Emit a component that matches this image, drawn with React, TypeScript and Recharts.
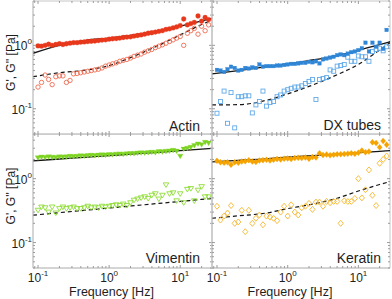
import React from 'react';
import { ComposedChart, Scatter, Line, XAxis, YAxis, ReferenceArea } from 'recharts';

// measured frequencies (Hz), shared by all four samples
const freqs = [
  0.1, 0.112, 0.126, 0.141, 0.158, 0.178, 0.2, 0.224, 0.251, 0.282,
  0.316, 0.355, 0.398, 0.447, 0.501, 0.562, 0.631, 0.708, 0.794, 0.891,
  1, 1.12, 1.26, 1.41, 1.58, 1.78, 2, 2.24, 2.51, 2.82,
  3.16, 3.55, 3.98, 4.47, 5.01, 5.62, 6.31, 7.08, 7.94, 8.91,
  10, 11.2, 12.6, 14.1, 15.8, 17.8, 20, 22.4, 25.1,
];
const fitFreqs = [0.085, 0.2, 0.5, 1, 2, 5, 10, 20, 28];

const actinStorage = [
  0.98, 0.97, 1.0, 1.04, 1.0, 1.03, 1.06, 1.03, 1.06, 1.08,
  1.1, 1.1, 1.12, 1.13, 1.15, 1.16, 1.17, 1.19, 1.21, 1.22,
  1.25, 1.27, 1.28, 1.3, 1.33, 1.35, 1.36, 1.4, 1.43, 1.46,
  1.5, 1.55, 1.58, 1.62, 1.66, 1.7, 1.78, 1.82, 1.88, 1.95,
  2.05, 2.6, 2.1, 2.2, 2.3, 2.9, 2.4, 2.75, 2.55,
];
const actinLoss = [
  0.22, 0.26, 0.34, 0.29, 0.24, 0.32, 0.33, 0.33, 0.26, 0.28,
  0.355, 0.36, 0.37, 0.38, 0.39, 0.4, 0.41, 0.42, 0.44, 0.47,
  0.49, 0.51, 0.53, 0.56, 0.58, 0.6, 0.63, 0.67, 0.7, 0.73,
  0.78, 0.82, 0.86, 0.92, 0.97, 1.02, 1.08, 1.15, 1.22, 1.3,
  1.38, 1.0, 1.55, 1.7, 1.85, 1.5, 2.0, 1.7, 2.1,
];
const actinStorageFit = [0.75, 1.0, 1.21, 1.3, 1.44, 1.68, 2.0, 2.42, 2.65];
const actinLossFit = [0.32, 0.37, 0.41, 0.48, 0.64, 1.0, 1.46, 2.13, 2.5];

const dxStorage = [
  0.41, 0.4, 0.38, 0.42, 0.46, 0.44, 0.4, 0.41, 0.44, 0.43,
  0.45, 0.44, 0.5, 0.46, 0.47, 0.47, 0.47, 0.48, 0.48, 0.49,
  0.5, 0.51, 0.51, 0.52, 0.53, 0.53, 0.55, 0.54, 0.56, 0.52,
  0.6, 0.62, 0.64, 0.66, 0.7, 0.72, 0.7, 0.74, 0.78, 0.8,
  0.84, 0.9, 1.1, 0.8, 1.1, 0.95, 1.1, 0.88, 1.75,
];
const dxLoss = [
  0.085, 0.13, 0.19, 0.059, 0.18, 0.05, 0.155, 0.155, 0.16, 0.16,
  0.086, 0.115, 0.13, 0.19, 0.11, 0.125, 0.13, 0.155, 0.165, 0.19,
  0.2, 0.21, 0.22, 0.22, 0.23, 0.25, 0.27, 0.29, 0.14, 0.29,
  0.3, 0.31, 0.41, 0.39, 0.47, 0.48, 0.5, 0.65, 0.56, 0.56,
  0.68, 0.66, 0.66, 0.56, 0.8, 0.86, 0.9, 0.82, 0.95,
];
const dxStorageFit = [0.355, 0.4, 0.46, 0.51, 0.575, 0.69, 0.83, 1.03, 1.14];
const dxLossFit = [0.115, 0.116, 0.136, 0.172, 0.225, 0.344, 0.5, 0.845, 1.1];

const vimStorage = [
  2.12, 2.18, 2.15, 2.2, 2.17, 2.14, 2.2, 2.18, 2.2, 2.24,
  2.22, 2.25, 2.28, 2.26, 2.3, 2.32, 2.3, 2.34, 2.36, 2.34,
  2.38, 2.37, 2.42, 2.44, 2.41, 2.46, 2.48, 2.47, 2.52, 2.54,
  2.52, 2.56, 2.6, 2.56, 2.65, 2.63, 2.68, 2.72, 2.78, 2.7,
  2.25, 2.9, 3.0, 3.1, 3.3, 3.5, 3.4, 3.7, 3.6,
];
const vimLoss = [
  0.32, 0.36, 0.35, 0.3, 0.36, 0.29, 0.34, 0.36, 0.34, 0.35,
  0.36, 0.34, 0.34, 0.35, 0.37, 0.35, 0.36, 0.35, 0.37, 0.36,
  0.37, 0.38, 0.39, 0.38, 0.4, 0.38, 0.42, 0.46, 0.48, 0.5,
  0.52, 0.49, 0.55, 0.58, 0.48, 0.55, 0.8, 0.58, 0.6, 0.45,
  0.58, 0.42, 0.68, 0.7, 0.45, 0.66, 0.75, 0.52, 0.52,
];
const vimStorageFit = [1.9, 2.03, 2.18, 2.29, 2.42, 2.59, 2.74, 2.9, 2.97];
const vimLossFit = [0.268, 0.294, 0.323, 0.347, 0.373, 0.41, 0.44, 0.474, 0.49];

const kerStorage = [
  1.9, 1.8, 1.78, 1.8, 1.65, 1.8, 1.78, 1.85, 1.87, 1.95,
  1.85, 1.83, 1.92, 1.95, 1.97, 1.93, 1.98, 2.03, 2.0, 2.05,
  2.07, 2.03, 2.1, 2.12, 2.1, 2.15, 2.05, 2.18, 2.15, 2.5,
  2.35, 2.38, 2.33, 2.36, 2.4, 2.42, 2.44, 2.46, 2.5, 2.45,
  2.55, 2.75, 2.6, 2.65, 3.7, 3.6, 3.1, 3.9, 3.4,
];
const kerLoss = [
  0.37, 0.225, 0.26, 0.29, 0.38, 0.2, 0.21, 0.32, 0.148, 0.32,
  0.2, 0.24, 0.27, 0.19, 0.26, 0.25, 0.24, 0.22, 0.3, 0.37,
  0.26, 0.39, 0.3, 0.27, 0.35, 0.37, 0.41, 0.33, 0.43, 0.43,
  0.37, 0.44, 0.42, 0.44, 0.44, 0.2, 0.45, 0.44, 0.44, 0.49,
  1.0, 0.5, 0.67, 1.37, 0.55, 0.38, 1.74, 2.0, 2.26,
];
const kerStorageFit = [1.835, 1.94, 2.04, 2.17, 2.28, 2.42, 2.55, 2.68, 2.74];
const kerLossFit = [0.24, 0.262, 0.29, 0.34, 0.39, 0.494, 0.64, 0.81, 0.9];

const xTicks = [0.09, 0.1, 0.2, 0.3, 0.4, 0.5, 0.6, 0.7, 0.8, 0.9, 1, 2, 3, 4, 5, 6, 7, 8, 9, 10, 20];
const yTicks = [0.04, 0.05, 0.06, 0.07, 0.08, 0.09, 0.1, 0.2, 0.3, 0.4, 0.5, 0.6, 0.7, 0.8, 0.9, 1, 2, 3, 4, 5];
const tickExponents: Record<string, string> = { '0.1': '-1', '1': '0', '10': '1' };

const xDomain: [number, number] = [0.085, 28];
const yDomain: [number, number] = [0.04, 5];

const FONT = '"Liberation Sans", Arial, Helvetica, sans-serif';
const FRAME = '#c6c6c6';
const TICK = '#9c9c9c';
const TEXT = '#1e1e1e';

type Marker = 'circle' | 'square' | 'triangle' | 'diamond';

const markerShape = (kind: Marker, color: string, open: boolean) => (p: any) => {
  const { cx, cy } = p;
  if (cx == null || cy == null) return <g />;
  const fill = open ? 'none' : color;
  const sw = open ? 0.9 : 0.3;
  if (kind === 'circle') {
    return <circle cx={cx} cy={cy} r={open ? 2.2 : 2.4} fill={fill} stroke={color} strokeWidth={sw} />;
  }
  if (kind === 'square') {
    const s = open ? 2 : 1.8;
    return <rect x={cx - s} y={cy - s} width={2 * s} height={2 * s} fill={fill} stroke={color} strokeWidth={sw} />;
  }
  if (kind === 'triangle') {
    return (
      <polygon
        points={`${cx - 2.8},${cy - 2} ${cx + 2.8},${cy - 2} ${cx},${cy + 2.6}`}
        fill={fill}
        stroke={color}
        strokeWidth={sw}
      />
    );
  }
  return (
    <polygon
      points={`${cx},${cy - 3} ${cx + 2.6},${cy} ${cx},${cy + 3} ${cx - 2.6},${cy}`}
      fill={fill}
      stroke={color}
      strokeWidth={sw}
    />
  );
};

const xTick = (plotH: number, showLabel: boolean) => (p: any) => {
  const { x, y, payload } = p;
  const exp = tickExponents[String(payload.value)];
  const len = exp !== undefined ? 3 : 2;
  return (
    <g>
      <line x1={x} y1={y} x2={x} y2={y - len} stroke={TICK} />
      <line x1={x} y1={y - plotH} x2={x} y2={y - plotH + len} stroke={TICK} />
      {showLabel && exp !== undefined && (
        <text x={x} y={y + 14} textAnchor="middle" fontFamily={FONT} fontSize={12} fill={TEXT}>
          10<tspan dy={-6} fontSize={8}>{exp}</tspan>
        </text>
      )}
    </g>
  );
};

const yTick = (plotW: number, showLabel: boolean) => (p: any) => {
  const { x, y, payload } = p;
  const exp = tickExponents[String(payload.value)];
  const len = exp !== undefined ? 3 : 2;
  return (
    <g>
      <line x1={x} y1={y} x2={x + len} y2={y} stroke={TICK} />
      <line x1={x + plotW} y1={y} x2={x + plotW - len} y2={y} stroke={TICK} />
      {showLabel && exp !== undefined && (
        <text x={x - 1} y={y + 5} textAnchor="end" fontFamily={FONT} fontSize={12} fill={TEXT}>
          10<tspan dy={-6} fontSize={8}>{exp}</tspan>
        </text>
      )}
    </g>
  );
};

interface PanelConfig {
  name: string;
  left: number;
  top: number;
  width: number;
  height: number;
  mt: number;
  mr: number;
  mb: number;
  ml: number;
  yAxisW: number;
  showX: boolean;
  showY: boolean;
  nameRight: number;
  nameBottom: number;
  marker: Marker;
  color: string;
  lossColor: string;
  storage: number[];
  loss: number[];
  storageFit: number[];
  lossFit: number[];
}

// axis strips are 1px (x) / 1px (y, right panels); the rest of the room is margin
const panels: PanelConfig[] = [
  {
    name: 'Actin', left: 0, top: 0, width: 213, height: 135, mt: 1, mr: 1, mb: 0, ml: 0, yAxisW: 33,
    showX: false, showY: true, nameRight: 12, nameBottom: 3, marker: 'circle',
    color: '#e8381c', lossColor: '#ef6a4f',
    storage: actinStorage, loss: actinLoss, storageFit: actinStorageFit, lossFit: actinLossFit,
  },
  {
    name: 'DX tubes', left: 200, top: 0, width: 191, height: 135, mt: 1, mr: 1, mb: 0, ml: 11, yAxisW: 1,
    showX: false, showY: false, nameRight: 9, nameBottom: 4, marker: 'square',
    color: '#2f86d6', lossColor: '#62aae8',
    storage: dxStorage, loss: dxLoss, storageFit: dxStorageFit, lossFit: dxLossFit,
  },
  {
    name: 'Vimentin', left: 0, top: 134, width: 213, height: 165, mt: 0, mr: 1, mb: 30, ml: 0, yAxisW: 33,
    showX: true, showY: true, nameRight: 12, nameBottom: 5, marker: 'triangle',
    color: '#7dd321', lossColor: '#8fdc38',
    storage: vimStorage, loss: vimLoss, storageFit: vimStorageFit, lossFit: vimLossFit,
  },
  {
    name: 'Keratin', left: 200, top: 134, width: 192, height: 165, mt: 0, mr: 2, mb: 30, ml: 11, yAxisW: 1,
    showX: true, showY: false, nameRight: 9, nameBottom: 5, marker: 'diamond',
    color: '#f5a300', lossColor: '#f5b52d',
    storage: kerStorage, loss: kerLoss, storageFit: kerStorageFit, lossFit: kerLossFit,
  },
];

const X_AXIS_H = 1;

const Panel: React.FC<{ cfg: PanelConfig }> = ({ cfg }) => {
  const plotLeft = cfg.ml + cfg.yAxisW;
  const plotW = cfg.width - plotLeft - cfg.mr;
  const plotH = cfg.height - cfg.mt - cfg.mb - X_AXIS_H;
  const points = (vals: number[]) => freqs.map((f, i) => ({ f, g: vals[i] }));
  const fit = (vals: number[]) => fitFreqs.map((f, i) => ({ f, g: vals[i] }));

  const xLabel = () => (
    <text
      x={plotLeft + plotW / 2 - 11}
      y={cfg.mt + plotH + 28}
      textAnchor="middle"
      fontFamily={FONT}
      fontSize={12.5}
      fill={TEXT}
    >
      Frequency [Hz]
    </text>
  );
  const yLabel = () => {
    const cx = 11;
    const cy = cfg.mt + plotH / 2 - 5;
    return (
      <text
        x={cx}
        y={cy}
        transform={`rotate(-90, ${cx}, ${cy})`}
        textAnchor="middle"
        dominantBaseline="central"
        fontFamily={FONT}
        fontSize={12}
        fill={TEXT}
      >
        G', G'' [Pa]
      </text>
    );
  };
  const nameLabel = () => (
    <text
      x={plotLeft + plotW - cfg.nameRight}
      y={cfg.mt + plotH - cfg.nameBottom}
      textAnchor="end"
      fontFamily={FONT}
      fontSize={14}
      fill={TEXT}
    >
      {cfg.name}
    </text>
  );

  return (
    <div style={{ position: 'absolute', left: cfg.left, top: cfg.top }}>
      <ComposedChart
        width={cfg.width}
        height={cfg.height}
        margin={{ top: cfg.mt, right: cfg.mr, bottom: cfg.mb, left: cfg.ml }}
      >
        <XAxis
          dataKey="f"
          type="number"
          scale="log"
          domain={xDomain}
          allowDataOverflow
          ticks={xTicks}
          interval={0}
          height={X_AXIS_H}
          tickSize={0}
          tickMargin={0}
          tickLine={false}
          axisLine={{ stroke: FRAME }}
          tick={xTick(plotH, cfg.showX)}
          label={cfg.showX ? xLabel : undefined}
        />
        <YAxis
          type="number"
          scale="log"
          domain={yDomain}
          allowDataOverflow
          ticks={yTicks}
          interval={0}
          width={cfg.yAxisW}
          tickSize={0}
          tickMargin={0}
          tickLine={false}
          axisLine={{ stroke: FRAME }}
          tick={yTick(plotW, cfg.showY)}
          label={cfg.showY ? yLabel : undefined}
        />
        <ReferenceArea
          x1={xDomain[0]}
          x2={xDomain[1]}
          y1={yDomain[0]}
          y2={yDomain[1]}
          fill="none"
          fillOpacity={0}
          stroke={FRAME}
          strokeWidth={1}
          label={nameLabel}
        />
        <Scatter
          data={points(cfg.loss)}
          dataKey="g"
          shape={markerShape(cfg.marker, cfg.lossColor, true)}
          isAnimationActive={false}
        />
        <Scatter
          data={points(cfg.storage)}
          dataKey="g"
          shape={markerShape(cfg.marker, cfg.color, false)}
          isAnimationActive={false}
        />
        <Line
          data={fit(cfg.storageFit)}
          dataKey="g"
          type="monotone"
          stroke="#151515"
          strokeWidth={1.3}
          dot={false}
          activeDot={false}
          isAnimationActive={false}
        />
        <Line
          data={fit(cfg.lossFit)}
          dataKey="g"
          type="monotone"
          stroke="#151515"
          strokeWidth={1.2}
          strokeDasharray="4 3"
          dot={false}
          activeDot={false}
          isAnimationActive={false}
        />
      </ComposedChart>
    </div>
  );
};

const App: React.FC = () => (
  <div style={{ position: 'absolute', left: 0, top: 0, width: 392, height: 299, background: '#fff' }}>
    {panels.map((cfg) => (
      <Panel key={cfg.name} cfg={cfg} />
    ))}
  </div>
);

export default App;
